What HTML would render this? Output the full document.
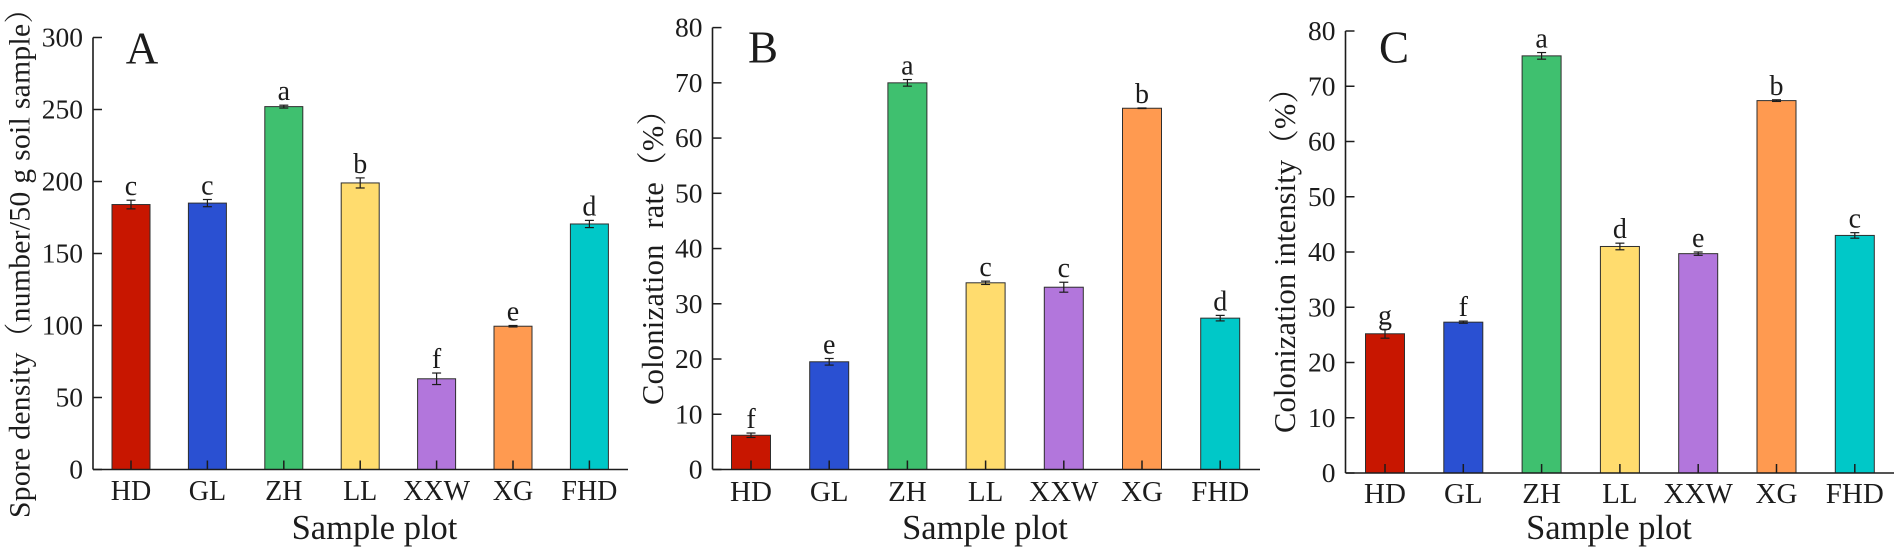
<!DOCTYPE html>
<html lang="en">
<head>
<meta charset="utf-8">
<title>Spore density and colonization by sample plot</title>
<style>
html,body{margin:0;padding:0;background:#fff;width:1902px;height:554px;overflow:hidden}
svg{display:block;filter:blur(.35px)}
text{font-family:"Liberation Serif","Noto Serif CJK SC",serif;fill:#1c1c1c;white-space:pre}
</style>
</head>
<body>
<svg id="figure" xmlns="http://www.w3.org/2000/svg" width="1902" height="554" viewBox="0 0 1902 554"></svg>
<script>
const categories = ['HD', 'GL', 'ZH', 'LL', 'XXW', 'XG', 'FHD'];
const barColors = ['#c81600', '#2a50d2', '#3fc06f', '#ffdc6e', '#b276dc', '#ff9a50', '#00c8c8'];

const densityValues = [184, 185, 252, 199, 63, 99.5, 170.5];
const densityErrors = [3, 2.5, 1, 3.5, 4, 0.5, 2.5];
const densityLetters = ['c', 'c', 'a', 'b', 'f', 'e', 'd'];
const densityTicks = [0, 50, 100, 150, 200, 250, 300];

const rateValues = [6.2, 19.5, 70, 33.8, 33, 65.4, 27.4];
const rateErrors = [0.4, 0.6, 0.6, 0.3, 0.9, 0.05, 0.5];
const rateLetters = ['f', 'e', 'a', 'c', 'c', 'b', 'd'];
const rateTicks = [0, 10, 20, 30, 40, 50, 60, 70, 80];

const intensityValues = [25.2, 27.3, 75.5, 41, 39.7, 67.4, 43];
const intensityErrors = [0.8, 0.2, 0.6, 0.6, 0.3, 0.15, 0.5];
const intensityLetters = ['g', 'f', 'a', 'd', 'e', 'b', 'c'];
const intensityTicks = [0, 10, 20, 30, 40, 50, 60, 70, 80];

const SVG_NS = 'http://www.w3.org/2000/svg';
const figure = document.getElementById('figure');

function make(tag, parent, props, content) {
  const el = document.createElementNS(SVG_NS, tag);
  for (const key in props) el.setAttribute(key, props[key]);
  if (content !== undefined) el.textContent = content;
  parent.appendChild(el);
  return el;
}

function line(parent, x1, y1, x2, y2, width, color) {
  return make('line', parent, { x1: x1, y1: y1, x2: x2, y2: y2, stroke: color || '#1c1c1c', 'stroke-width': width });
}

function drawPanel(p) {
  const g = make('g', figure, {});
  
  

  const maxTick = p.ticks[p.ticks.length - 1];
  const yScale = v => p.y0 - (v / maxTick) * (p.y0 - p.yTop);
  const xScale = i => p.xFirst + i * p.step;

  categories.forEach((cat, i) => {
    const cx = xScale(i);
    const top = yScale(p.values[i]);
    const errTop = yScale(p.values[i] + p.errors[i]);
    const errBottom = yScale(p.values[i] - p.errors[i]);

    const bar = make('rect', g, { x: cx - p.barWidth / 2, y: top, width: p.barWidth, height: p.y0 - top, fill: barColors[i], stroke: '#2e2e2e', 'stroke-width': 1 });
    
    

    const err = make('g', g, {});
    
    
    line(err, cx, errTop, cx, errBottom, 1.2);
    line(err, cx - 4.5, errTop, cx + 4.5, errTop, 1.2);
    line(err, cx - 4.5, errBottom, cx + 4.5, errBottom, 1.2);

    const letter = make('text', g, { x: cx, y: errTop - 5, 'text-anchor': 'middle', 'font-size': 28 }, p.letters[i]);
    
    

    const tick = line(g, cx, p.y0, cx, p.y0 - 9, 1.5);
    
    

    const label = make('text', g, { x: cx, y: p.xLabelY, 'text-anchor': 'middle', 'font-size': p.xFont }, cat);
    
    
  });

  p.ticks.forEach(t => {
    const y = yScale(t);
    const tick = line(g, p.axisX, y, p.axisX + 9, y, 1.5);
    
    
    const label = make('text', g, { x: p.axisX - 10, y: y + 9, 'text-anchor': 'end', 'font-size': 27.5 }, String(t));
    
    
  });

  const yAxis = line(g, p.axisX, p.yTop, p.axisX, p.y0, 1.6);
  
  
  const xAxis = line(g, p.axisX, p.y0, p.axisEnd, p.y0, 1.6);
  
  

  const panelLabel = make('text', g, { x: p.letterX, y: p.letterY, 'text-anchor': 'middle', 'font-size': 45 }, p.id);
  
  

  const xTitle = make('text', g, { x: p.xTitleX, y: p.xTitleY, 'text-anchor': 'middle', 'font-size': 34.5 }, 'Sample plot');
  
  

  const yTitle = make('text', g, {
    transform: 'translate(' + p.yTitleX + ',' + p.yTitleBottom + ') rotate(-90)',
    x: 0, y: 0, 'font-size': p.yTitleFont, textLength: p.yTitleLength, lengthAdjust: 'spacing'
  }, p.yTitle);
  
  
}

drawPanel({
  id: 'A', values: densityValues, errors: densityErrors, letters: densityLetters, ticks: densityTicks,
  axisX: 93, axisEnd: 628, yTop: 37.5, y0: 469.5, xFirst: 131, step: 76.4, barWidth: 38,
  xLabelY: 500, xFont: 28, letterX: 142, letterY: 63.5, xTitleX: 374.5, xTitleY: 539,
  yTitle: 'Spore density（number/50 g soil sample）', yTitleX: 29.5, yTitleBottom: 518, yTitleLength: 524, yTitleFont: 29.5
});
drawPanel({
  id: 'B', values: rateValues, errors: rateErrors, letters: rateLetters, ticks: rateTicks,
  axisX: 712.5, axisEnd: 1260, yTop: 27.6, y0: 469.5, xFirst: 751, step: 78.2, barWidth: 39,
  xLabelY: 501, xFont: 29, letterX: 763, letterY: 62.5, xTitleX: 985, xTitleY: 539,
  yTitle: 'Colonization  rate（%）', yTitleX: 663, yTitleBottom: 405, yTitleLength: 310, yTitleFont: 30.5
});
drawPanel({
  id: 'C', values: intensityValues, errors: intensityErrors, letters: intensityLetters, ticks: intensityTicks,
  axisX: 1345.5, axisEnd: 1894, yTop: 31, y0: 473, xFirst: 1385, step: 78.3, barWidth: 39,
  xLabelY: 503, xFont: 29, letterX: 1394, letterY: 62.5, xTitleX: 1609, xTitleY: 539,
  yTitle: 'Colonization intensity（%）', yTitleX: 1295, yTitleBottom: 433, yTitleLength: 360, yTitleFont: 30.5
});
</script>
</body>
</html>
